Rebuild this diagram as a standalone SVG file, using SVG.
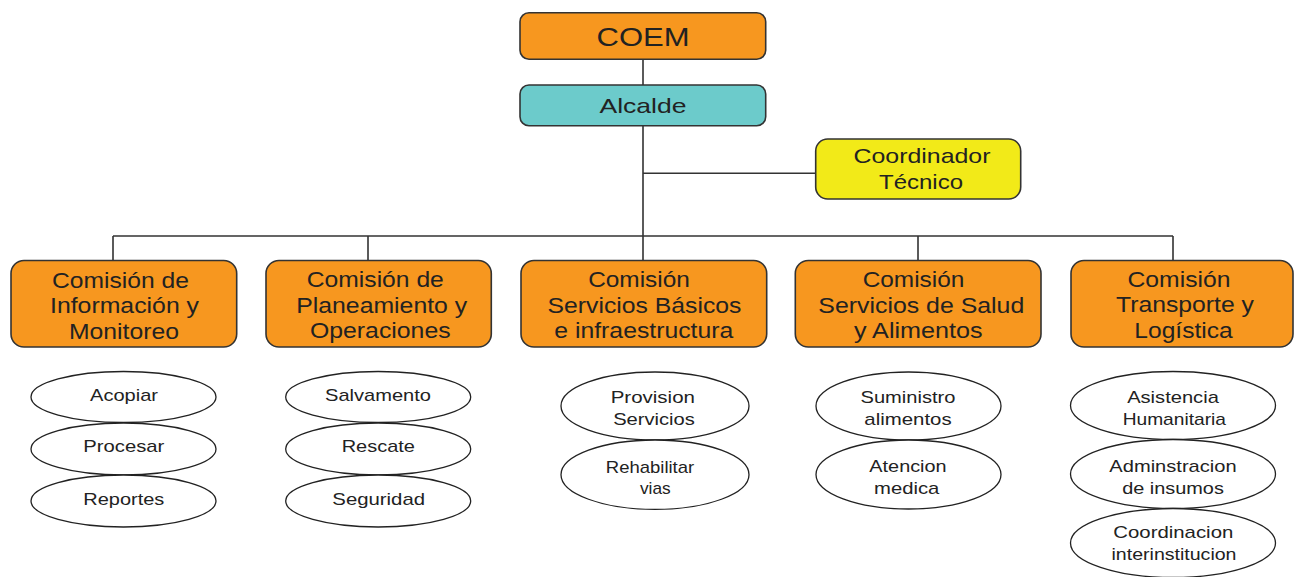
<svg xmlns="http://www.w3.org/2000/svg" width="1294" height="577" viewBox="0 0 1294 577">
<style>
.box{stroke:#333;stroke-width:1.6}
.or{fill:#F7971F}
.tl{fill:#6CCBCB}
.ye{fill:#F2EA18}
.el{fill:#fff;stroke:#222;stroke-width:1.3}
.cn{stroke:#333;stroke-width:1.6;fill:none}
text{font-family:"Liberation Sans",Arial,sans-serif;fill:#222;text-anchor:middle}
.t25{font-size:25px}
.t21{font-size:21px}
.t22{font-size:22px}
.t17{font-size:17px}
</style>
<rect width="1294" height="577" fill="#fff"/>
<g id="connectors">
<path class="cn" d="M643 59V85M643 125.7V261M643 173.3H816M113 236H1173M113 236V261M368 236V261M918 236V261M1173 236V261"/>
</g>
<g id="coem">
<rect class="box or" x="520" y="12.7" width="245.7" height="46.6" rx="9"/>
<text class="t25" x="643" y="45.7" textLength="93" lengthAdjust="spacingAndGlyphs">COEM</text>
</g>
<g id="alcalde">
<rect class="box tl" x="520" y="85" width="245.7" height="40.7" rx="9"/>
<text class="t21" x="643" y="113.3" textLength="87" lengthAdjust="spacingAndGlyphs">Alcalde</text>
</g>
<g id="coordinador">
<rect class="box ye" x="815.7" y="139" width="205" height="60" rx="12"/>
<text class="t21" x="922" y="163.3" textLength="137" lengthAdjust="spacingAndGlyphs">Coordinador</text>
<text class="t21" x="921" y="189" textLength="84" lengthAdjust="spacingAndGlyphs">Técnico</text>
</g>
<g id="com1">
<rect class="box or" x="11" y="260.5" width="225.7" height="86.5" rx="13"/>
<text class="t22" x="120.5" y="287.5" textLength="137" lengthAdjust="spacingAndGlyphs">Comisión de</text>
<text class="t22" x="124.5" y="313" textLength="149" lengthAdjust="spacingAndGlyphs">Información y</text>
<text class="t22" x="124" y="338.5" textLength="110" lengthAdjust="spacingAndGlyphs">Monitoreo</text>
</g>
<g id="com2">
<rect class="box or" x="266" y="260.5" width="225.3" height="86.5" rx="13"/>
<text class="t22" x="375.3" y="287" textLength="137" lengthAdjust="spacingAndGlyphs">Comisión de</text>
<text class="t22" x="381.7" y="312.7" textLength="171" lengthAdjust="spacingAndGlyphs">Planeamiento y</text>
<text class="t22" x="380.3" y="338.3" textLength="140.7" lengthAdjust="spacingAndGlyphs">Operaciones</text>
</g>
<g id="com3">
<rect class="box or" x="521" y="260.5" width="245.7" height="86.5" rx="13"/>
<text class="t22" x="639" y="286.7" textLength="101.7" lengthAdjust="spacingAndGlyphs">Comisión</text>
<text class="t22" x="644.5" y="313.3" textLength="194" lengthAdjust="spacingAndGlyphs">Servicios Básicos</text>
<text class="t22" x="643.8" y="338.3" textLength="179" lengthAdjust="spacingAndGlyphs">e infraestructura</text>
</g>
<g id="com4">
<rect class="box or" x="795.3" y="260.5" width="245.7" height="86.5" rx="13"/>
<text class="t22" x="913.5" y="286.7" textLength="101.7" lengthAdjust="spacingAndGlyphs">Comisión</text>
<text class="t22" x="921.3" y="312.7" textLength="206" lengthAdjust="spacingAndGlyphs">Servicios de Salud</text>
<text class="t22" x="918.3" y="338.3" textLength="128.7" lengthAdjust="spacingAndGlyphs">y Alimentos</text>
</g>
<g id="com5">
<rect class="box or" x="1071" y="260.5" width="222" height="86.5" rx="13"/>
<text class="t22" x="1179" y="286.7" textLength="103" lengthAdjust="spacingAndGlyphs">Comisión</text>
<text class="t22" x="1185" y="312.3" textLength="138" lengthAdjust="spacingAndGlyphs">Transporte y</text>
<text class="t22" x="1183.5" y="338.3" textLength="98.3" lengthAdjust="spacingAndGlyphs">Logística</text>
</g>
<g id="acopiar">
<ellipse class="el" cx="123.5" cy="397" rx="92.5" ry="25.5"/>
<text class="t17" x="124" y="400.7" textLength="68" lengthAdjust="spacingAndGlyphs">Acopiar</text>
</g>
<g id="procesar">
<ellipse class="el" cx="123.5" cy="449" rx="92.5" ry="26"/>
<text class="t17" x="123.8" y="451.7" textLength="81" lengthAdjust="spacingAndGlyphs">Procesar</text>
</g>
<g id="reportes">
<ellipse class="el" cx="123.5" cy="501" rx="92.5" ry="26"/>
<text class="t17" x="123.8" y="505" textLength="81" lengthAdjust="spacingAndGlyphs">Reportes</text>
</g>
<g id="salvamento">
<ellipse class="el" cx="378.2" cy="397" rx="92.5" ry="25.5"/>
<text class="t17" x="378" y="400.7" textLength="106" lengthAdjust="spacingAndGlyphs">Salvamento</text>
</g>
<g id="rescate">
<ellipse class="el" cx="378.2" cy="449" rx="92.5" ry="26"/>
<text class="t17" x="378.3" y="451.7" textLength="73.3" lengthAdjust="spacingAndGlyphs">Rescate</text>
</g>
<g id="seguridad">
<ellipse class="el" cx="378.2" cy="501" rx="92.5" ry="26"/>
<text class="t17" x="378.7" y="505" textLength="92.7" lengthAdjust="spacingAndGlyphs">Seguridad</text>
</g>
<g id="provision">
<ellipse class="el" cx="655" cy="406" rx="94" ry="34"/>
<text class="t17" x="652.8" y="402.7" textLength="84.3" lengthAdjust="spacingAndGlyphs">Provision</text>
<text class="t17" x="654" y="425" textLength="81.7" lengthAdjust="spacingAndGlyphs">Servicios</text>
</g>
<g id="rehabilitar">
<ellipse class="el" cx="655" cy="474.7" rx="94" ry="34.7"/>
<text class="t17" x="650" y="472.7" textLength="88.3" lengthAdjust="spacingAndGlyphs">Rehabilitar</text>
<text class="t17" x="655.3" y="494" textLength="30.7" lengthAdjust="spacingAndGlyphs">vias</text>
</g>
<g id="suministro">
<ellipse class="el" cx="908.5" cy="406" rx="92.5" ry="34"/>
<text class="t17" x="908" y="402.7" textLength="95" lengthAdjust="spacingAndGlyphs">Suministro</text>
<text class="t17" x="908" y="425" textLength="87.3" lengthAdjust="spacingAndGlyphs">alimentos</text>
</g>
<g id="atencion">
<ellipse class="el" cx="908.5" cy="474.5" rx="92.5" ry="34.5"/>
<text class="t17" x="908" y="472.3" textLength="77.3" lengthAdjust="spacingAndGlyphs">Atencion</text>
<text class="t17" x="906.7" y="494" textLength="65.3" lengthAdjust="spacingAndGlyphs">medica</text>
</g>
<g id="asistencia">
<ellipse class="el" cx="1173" cy="405.5" rx="102.5" ry="34"/>
<text class="t17" x="1173" y="402.7" textLength="91.7" lengthAdjust="spacingAndGlyphs">Asistencia</text>
<text class="t17" x="1174.3" y="425" textLength="103.3" lengthAdjust="spacingAndGlyphs">Humanitaria</text>
</g>
<g id="adminstracion">
<ellipse class="el" cx="1173" cy="474" rx="102.5" ry="34.5"/>
<text class="t17" x="1173" y="471.7" textLength="127.3" lengthAdjust="spacingAndGlyphs">Adminstracion</text>
<text class="t17" x="1173" y="494.3" textLength="101.7" lengthAdjust="spacingAndGlyphs">de insumos</text>
</g>
<g id="coordinacion">
<ellipse class="el" cx="1173" cy="543" rx="102.5" ry="34.5"/>
<text class="t17" x="1173.3" y="538.3" textLength="120" lengthAdjust="spacingAndGlyphs">Coordinacion</text>
<text class="t17" x="1174" y="560" textLength="125" lengthAdjust="spacingAndGlyphs">interinstitucion</text>
</g>
</svg>
